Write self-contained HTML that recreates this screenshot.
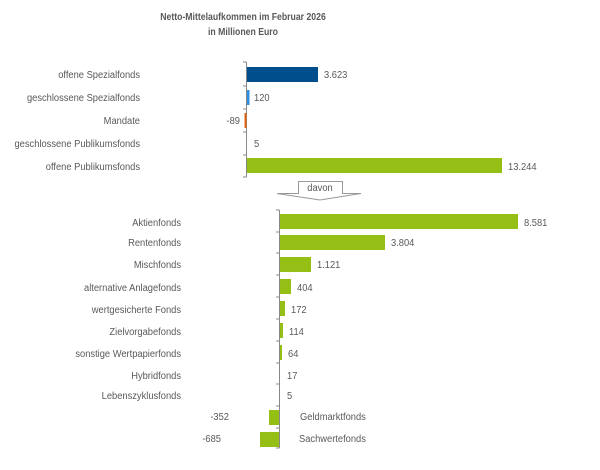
<!DOCTYPE html>
<html><head><meta charset="utf-8"><style>
body{margin:0;background:#fff}
svg text{font-family:"Liberation Sans",sans-serif;font-size:10.5px;fill:#595959}
</style></head><body>
<svg width="600" height="465" viewBox="0 0 600 465" xmlns="http://www.w3.org/2000/svg">
<text transform="translate(243,20) scale(0.87,1)" text-anchor="middle" style="font-weight:bold;font-size:10px">Netto-Mittelaufkommen im Februar 2026</text>
<text transform="translate(243,35) scale(0.87,1)" text-anchor="middle" style="font-weight:bold;font-size:10px">in Millionen Euro</text>
<!-- top chart -->
<g stroke="#888" stroke-width="1" fill="none">
<path d="M246.5 62V177M243 62H246.5M243 86H246.5M243 109H246.5M243 132H246.5M243 155H246.5M243 177H246.5"/>
</g>
<rect x="247" y="67" width="71" height="15" fill="#004f8c"/>
<rect x="247" y="90" width="2.5" height="15" fill="#2e8ee0"/>
<rect x="244.5" y="113" width="2" height="15" fill="#e06010"/>
<rect x="247" y="158" width="255" height="15" fill="#95bf14"/>
<g text-anchor="end">
<text transform="translate(140,78) scale(0.89,1)">offene Spezialfonds</text>
<text transform="translate(140,101) scale(0.89,1)">geschlossene Spezialfonds</text>
<text transform="translate(140,124) scale(0.89,1)">Mandate</text>
<text transform="translate(140,147) scale(0.89,1)">geschlossene Publikumsfonds</text>
<text transform="translate(140,170) scale(0.89,1)">offene Publikumsfonds</text>
<text transform="translate(240,124) scale(0.89,1)">-89</text>
</g>
<g>
<text transform="translate(324,78) scale(0.89,1)">3.623</text>
<text transform="translate(254,101) scale(0.89,1)">120</text>
<text transform="translate(254,147) scale(0.89,1)">5</text>
<text transform="translate(508,170) scale(0.89,1)">13.244</text>
</g>
<!-- arrow -->
<path d="M298.5 181.5H342.5V193.5H361L320 200L277 193.5H298.5Z" fill="#fff" stroke="#999"/>
<text transform="translate(320,191) scale(0.89,1)" text-anchor="middle">davon</text>
<!-- bottom chart -->
<g stroke="#888" stroke-width="1" fill="none">
<path d="M279.5 210V448M276 210H279.5M276 232H279.5M276 253H279.5M276 275H279.5M276 297H279.5M276 319H279.5M276 341H279.5M276 363H279.5M276 384H279.5M276 406H279.5M276 428H279.5M276 448H279.5"/>
</g>
<g fill="#95bf14">
<rect x="280" y="214" width="238" height="15"/>
<rect x="280" y="235" width="105" height="15"/>
<rect x="280" y="257" width="31" height="15"/>
<rect x="280" y="279" width="11" height="15"/>
<rect x="280" y="301" width="5" height="15"/>
<rect x="280" y="323" width="3" height="15"/>
<rect x="280" y="345" width="2" height="15"/>
<rect x="269" y="410" width="10" height="15"/>
<rect x="260" y="432" width="19" height="15"/>
</g>
<g text-anchor="end">
<text transform="translate(181,226) scale(0.89,1)">Aktienfonds</text>
<text transform="translate(181,246) scale(0.89,1)">Rentenfonds</text>
<text transform="translate(181,268) scale(0.89,1)">Mischfonds</text>
<text transform="translate(181,291) scale(0.89,1)">alternative Anlagefonds</text>
<text transform="translate(181,313) scale(0.89,1)">wertgesicherte Fonds</text>
<text transform="translate(181,335) scale(0.89,1)">Zielvorgabefonds</text>
<text transform="translate(181,357) scale(0.89,1)">sonstige Wertpapierfonds</text>
<text transform="translate(181,379) scale(0.89,1)">Hybridfonds</text>
<text transform="translate(181,399) scale(0.89,1)">Lebenszyklusfonds</text>
<text transform="translate(229,420) scale(0.89,1)">-352</text>
<text transform="translate(221,442) scale(0.89,1)">-685</text>
</g>
<text transform="translate(524,226) scale(0.89,1)">8.581</text>
<text transform="translate(391,246) scale(0.89,1)">3.804</text>
<text transform="translate(317,268) scale(0.89,1)">1.121</text>
<text transform="translate(297,291) scale(0.89,1)">404</text>
<text transform="translate(291,313) scale(0.89,1)">172</text>
<text transform="translate(289,335) scale(0.89,1)">114</text>
<text transform="translate(288,357) scale(0.89,1)">64</text>
<text transform="translate(287,379) scale(0.89,1)">17</text>
<text transform="translate(287,399) scale(0.89,1)">5</text>
<text transform="translate(300,420) scale(0.89,1)">Geldmarktfonds</text>
<text transform="translate(299,442) scale(0.89,1)">Sachwertefonds</text>
</svg>
</body></html>
